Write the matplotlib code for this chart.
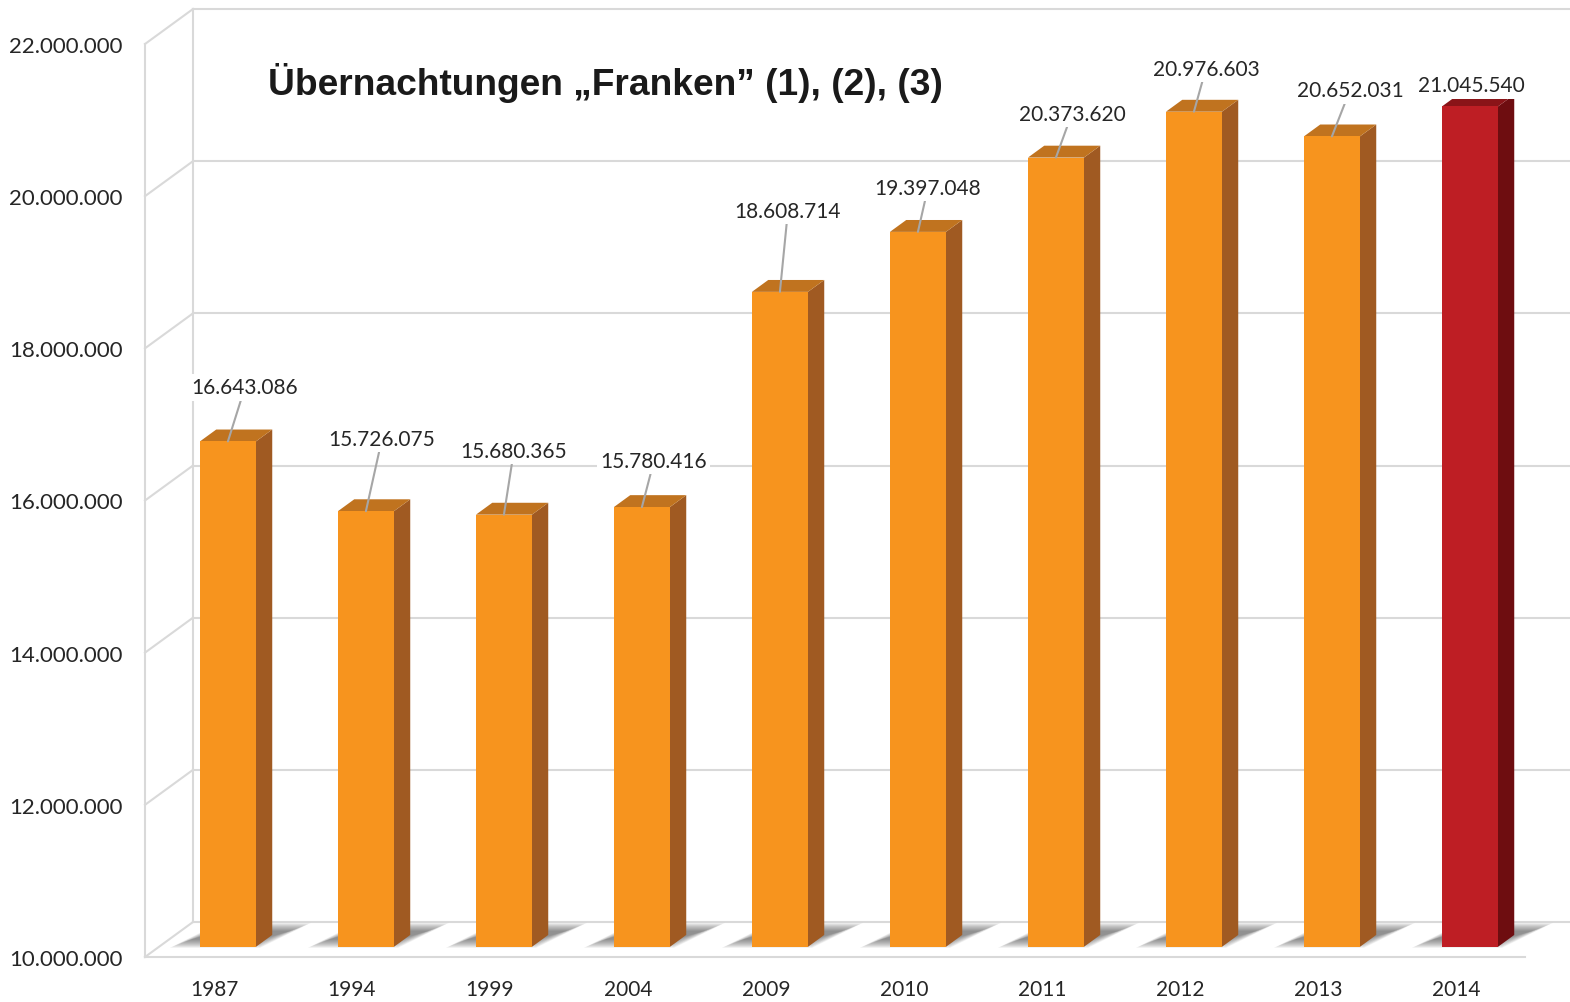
import matplotlib
matplotlib.use("Agg")
import matplotlib.pyplot as plt
from matplotlib.patches import Polygon
import numpy as np

# data
years = ['1987', '1994', '1999', '2004', '2009', '2010', '2011', '2012', '2013', '2014']
values = [16643086, 15726075, 15680365, 15780416, 18608714,
          19397048, 20373620, 20976603, 20652031, 21045540]
yticks = [10e6, 12e6, 14e6, 16e6, 18e6, 20e6, 22e6]
title = "Übernachtungen \u201eFranken\u201d (1), (2), (3)"

# label offsets from the bar top (pixels), as placed in the original
label_dx = [17, 16, 10, 12, 8, 10, 16, 12, 18, 1]
label_dy = [54, 72, 64, 46, 81, 44, 44, 43, 46, 21]

W, H = 1570, 1003
fig = plt.figure(figsize=(W / 100, H / 100), dpi=100)
ax = fig.add_axes([145 / W, 1 - 958 / H, 1380 / W, 913 / H])
ymin, ymax = 10e6, 22e6
ax.set_xlim(-0.5, len(years) - 0.5)
ax.set_ylim(ymin, ymax)
for s in ax.spines.values():
    s.set_visible(False)

# perspective offsets of the back wall (category units / value units)
px_x = 138.0
px_y = 913.0 / (ymax - ymin)
DX = 48 / px_x
DY = 35 / px_y

grid = '#d9d9d9'
glw = 1.5
x0, x1 = -0.5, len(years) - 0.5
for t in yticks:
    ax.plot([x0 + DX, x1 + DX + 0.5], [t + DY, t + DY], color=grid, lw=glw, clip_on=False, zorder=1)
    ax.plot([x0, x0 + DX], [t, t + DY], color=grid, lw=glw, clip_on=False, zorder=1)
ax.plot([x0 + DX, x0 + DX], [ymin + DY, ymax + DY], color=grid, lw=glw, clip_on=False, zorder=1)
ax.plot([x0, x0], [ymin, ymax], color=grid, lw=glw, clip_on=False, zorder=1)
ax.plot([x0, x1], [ymin, ymin], color=grid, lw=glw, clip_on=False, zorder=1)

# bars
d0 = 0.29          # depth of bar front face
bd = 0.34          # bar depth
bw = 56 / px_x
xs = np.arange(len(years))
front = ['#f7941e'] * 9 + ['#be1e24']
side = ['#a05a22'] * 9 + ['#6e0d10']
top = ['#c0731f'] * 9 + ['#8a1418']

base = ymin + d0 * DY
for i, v in enumerate(values):
    cx = xs[i] + d0 * DX
    l, r = cx - bw / 2, cx + bw / 2
    tp = v + d0 * DY
    # blurred floor shadow, cast towards the back right
    for k in range(10):
        ins = k * 2.2 / px_x
        insy = k * 0.9 / px_y
        poly = [(l - 30 / px_x + ins, base - 1 / px_y + insy),
                (r + 4 / px_x, base - 1 / px_y + insy),
                (r + 55 / px_x - ins, base + 24 / px_y - insy),
                (l + 20 / px_x, base + 24 / px_y - insy)]
        ax.add_patch(Polygon(poly, closed=True, fc='#3a3a3a', ec='none', alpha=0.075,
                             zorder=2, clip_on=False))
    ax.add_patch(Polygon([(r, base), (r + bd * DX, base + bd * DY),
                          (r + bd * DX, tp + bd * DY), (r, tp)],
                         closed=True, fc=side[i], ec='none', zorder=3, clip_on=False))
    ax.add_patch(Polygon([(l, tp), (r, tp), (r + bd * DX, tp + bd * DY), (l + bd * DX, tp + bd * DY)],
                         closed=True, fc=top[i], ec='none', zorder=3, clip_on=False))
ax.bar(xs + d0 * DX, [v - ymin for v in values], bottom=base, width=bw,
       color=front, zorder=4, clip_on=False)

# data labels
for i, v in enumerate(values):
    lab = f"{v:,}".replace(',', '.')
    arrow = dict(arrowstyle='-', color='#a6a6a6', lw=1.5, shrinkA=0, shrinkB=0)
    if i == len(values) - 1:
        arrow = None
    ax.annotate(lab, xy=(xs[i] + d0 * DX, v + d0 * DY),
                xytext=(label_dx[i], label_dy[i]), textcoords='offset pixels',
                ha='center', va='center', fontsize=15, family='Lato', color='#262626',
                bbox=dict(boxstyle='square,pad=0.15', fc='white', ec='none'),
                arrowprops=arrow, zorder=6, annotation_clip=False)

ax.set_yticks(yticks)
ax.set_yticklabels([f"{int(t):,}".replace(',', '.') for t in yticks],
                   fontsize=16, family='Lato', color='#262626')
ax.set_xticks(xs)
ax.set_xticklabels(years, fontsize=15, family='Lato', color='#262626')
ax.tick_params(axis='y', length=0, pad=16)
ax.tick_params(axis='x', length=0, pad=16)

fig.text(268 / W, 1 - 83 / H, title, fontsize=26.7, fontweight='bold',
         family='Liberation Sans', color='#1a1a1a', ha='left', va='center')

fig.savefig('out.png', dpi=100, facecolor='white')
